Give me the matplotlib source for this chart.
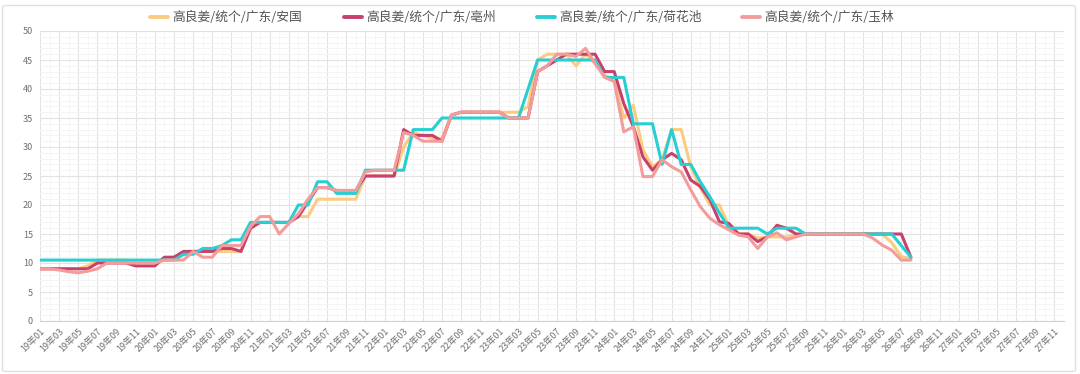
import matplotlib
matplotlib.use("Agg")
import matplotlib.pyplot as plt
from matplotlib.lines import Line2D
from matplotlib.patches import FancyBboxPatch
from matplotlib.ticker import MultipleLocator

plt.rcParams['font.family'] = ['Noto Sans CJK SC', 'DejaVu Sans']

# monthly categories 19年01 ... 27年12
categories = [f"{y:02d}年{m:02d}" for y in range(19, 28) for m in range(1, 13)]
tick_labels = categories[::2]

series_names = ["高良姜/统个/广东/安国", "高良姜/统个/广东/亳州",
                "高良姜/统个/广东/荷花池", "高良姜/统个/广东/玉林"]

anguo = ([9] * 5 + [9.5, 10.5] + [10.5] * 3 + [10] * 3 + [10.5, 11, 11.5] + [12] * 6
         + [16.5] + [17] * 4 + [18, 18] + [21] * 5 + [25] * 4
         + [30, 32.5, 32, 31.5, 31.5]
         + [35.5, 36, 36, 36, 36, 36, 36, 36, 37]
         + [45, 46, 46, 46, 44, 46, 44.4, 42.4, 41.5, 35, 37.2, 29.5, 26.6, 27.8,
            33, 33, 26.6, 23, 20, 20, 16.3, 15, 15, 14.3, 14.5, 14.5, 14.5, 14.8]
         + [15] * 9 + [13.5, 11.1, 10.8])

bozhou = ([9] * 6 + [10] * 4 + [9.5] * 3 + [11, 11] + [12] * 4 + [12.5, 12.5, 12]
          + [16] + [17] * 4 + [18, 20.5] + [23, 23] + [22.5] * 3 + [25] * 4
          + [33] + [32] * 3 + [31] + [35.5] + [36] * 5 + [35] * 3
          + [43, 44, 45] + [46] * 4 + [43, 43]
          + [37.5, 33.5, 28.3, 26, 27.8, 28.9, 27.8, 24.3, 23.2, 20.9, 17.1, 16.8,
             15, 15, 13.7, 14.5, 16.5, 16, 15]
          + [15] * 11 + [11])

hehuachi = ([10.5] * 15 + [11.5, 11.5, 12.5, 12.5, 13, 14, 14] + [17] * 5
            + [20, 20, 24, 24, 22, 22, 22] + [26] * 5 + [33] * 3 + [35] * 9
            + [40] + [45] * 7 + [42] * 3 + [34] * 3
            + [27, 33, 27, 27, 24, 21.4, 18.6] + [16] * 4 + [15, 16, 16, 16]
            + [15] * 10 + [13, 11])

yulin = ([9, 9, 8.8, 8.5, 8.3, 8.6, 9, 10] + [10] * 5 + [10.5] * 3
         + [12, 11, 11, 13, 13, 13]
         + [16.3, 18, 18, 15, 16.8, 18.5, 21, 23, 23] + [22.5] * 3
         + [25.7, 26, 26, 26] + [32.5, 32, 31, 31, 31, 35.5] + [36] * 5 + [35] * 3
         + [43, 44, 46, 46, 45.6, 47, 44.4, 42, 41.3, 32.6, 33.5, 24.9, 24.9, 27.8,
            26.6, 25.7, 22.6, 19.7, 17.7, 16.6, 15.7, 14.8, 14.5, 12.5, 14.5, 15.2,
            14, 14.5]
         + [15] * 7 + [14.3, 13.1, 12.2, 10.5, 10.5])

series_values = [anguo, bozhou, hehuachi, yulin]
colors = ["#FBCB7F", "#C8406C", "#27CFD3", "#F39C9C"]

W, H = 1080, 374
fig = plt.figure(figsize=(W / 100, H / 100), dpi=100)

left, right, top, bottom = 40, 1064, 31, 321
ax = fig.add_axes([left / W, 1 - bottom / H, (right - left) / W, (bottom - top) / H])
ax.set_facecolor("none")

x_idx = list(range(len(categories)))
for name, vals, c in zip(series_names, series_values, colors):
    ax.plot(x_idx[:len(vals)], vals, color=c, linewidth=2.2, solid_joinstyle="round",
            solid_capstyle="round", zorder=3)

ax.set_xlim(0, len(categories) - 1)
ax.set_ylim(0, 50)
ax.yaxis.set_major_locator(MultipleLocator(5))
ax.yaxis.set_minor_locator(MultipleLocator(1))
ax.set_xticks(x_idx[::2])
ax.set_xticks(x_idx, minor=True)
ax.set_xticklabels(tick_labels, rotation=45, ha="right", rotation_mode="anchor",
                   fontsize=6.5, color="#6e6e6e")
ax.tick_params(axis="x", which="both", length=0, pad=4)
ax.tick_params(axis="y", which="both", length=0, pad=5, labelsize=6.5, labelcolor="#6e6e6e")

ax.grid(which="major", axis="both", color="#e3e3e3", linewidth=0.8, zorder=0)
ax.grid(which="minor", axis="y", color="#f4f4f4", linewidth=0.7, zorder=0)
ax.grid(which="minor", axis="x", color="#f7f7f7", linewidth=0.7, zorder=0)
ax.set_axisbelow(True)
for s in ["left", "right", "top"]:
    ax.spines[s].set_visible(False)
ax.spines["bottom"].set_color("#d0d0d0")
ax.spines["bottom"].set_linewidth(0.8)

# outer card border
fig.add_artist(FancyBboxPatch((2.5 / W, 2.5 / H), 1073 / W, 366 / H,
                              boxstyle="round,pad=0,rounding_size=0.004",
                              transform=fig.transFigure, facecolor="none",
                              edgecolor="#dedede", linewidth=0.9))

# legend row across the top
legend_x = [150, 344, 537, 742]
ly = 1 - 17 / H
for x0, name, c in zip(legend_x, series_names, colors):
    fig.add_artist(Line2D([x0 / W, (x0 + 18) / W], [ly, ly], color=c, linewidth=2.8,
                          solid_capstyle="round", transform=fig.transFigure))
    fig.text((x0 + 22) / W, ly, name, fontsize=9.2, color="#555555",
             va="center", ha="left")

fig.savefig("out.png", dpi=100, facecolor="white")
